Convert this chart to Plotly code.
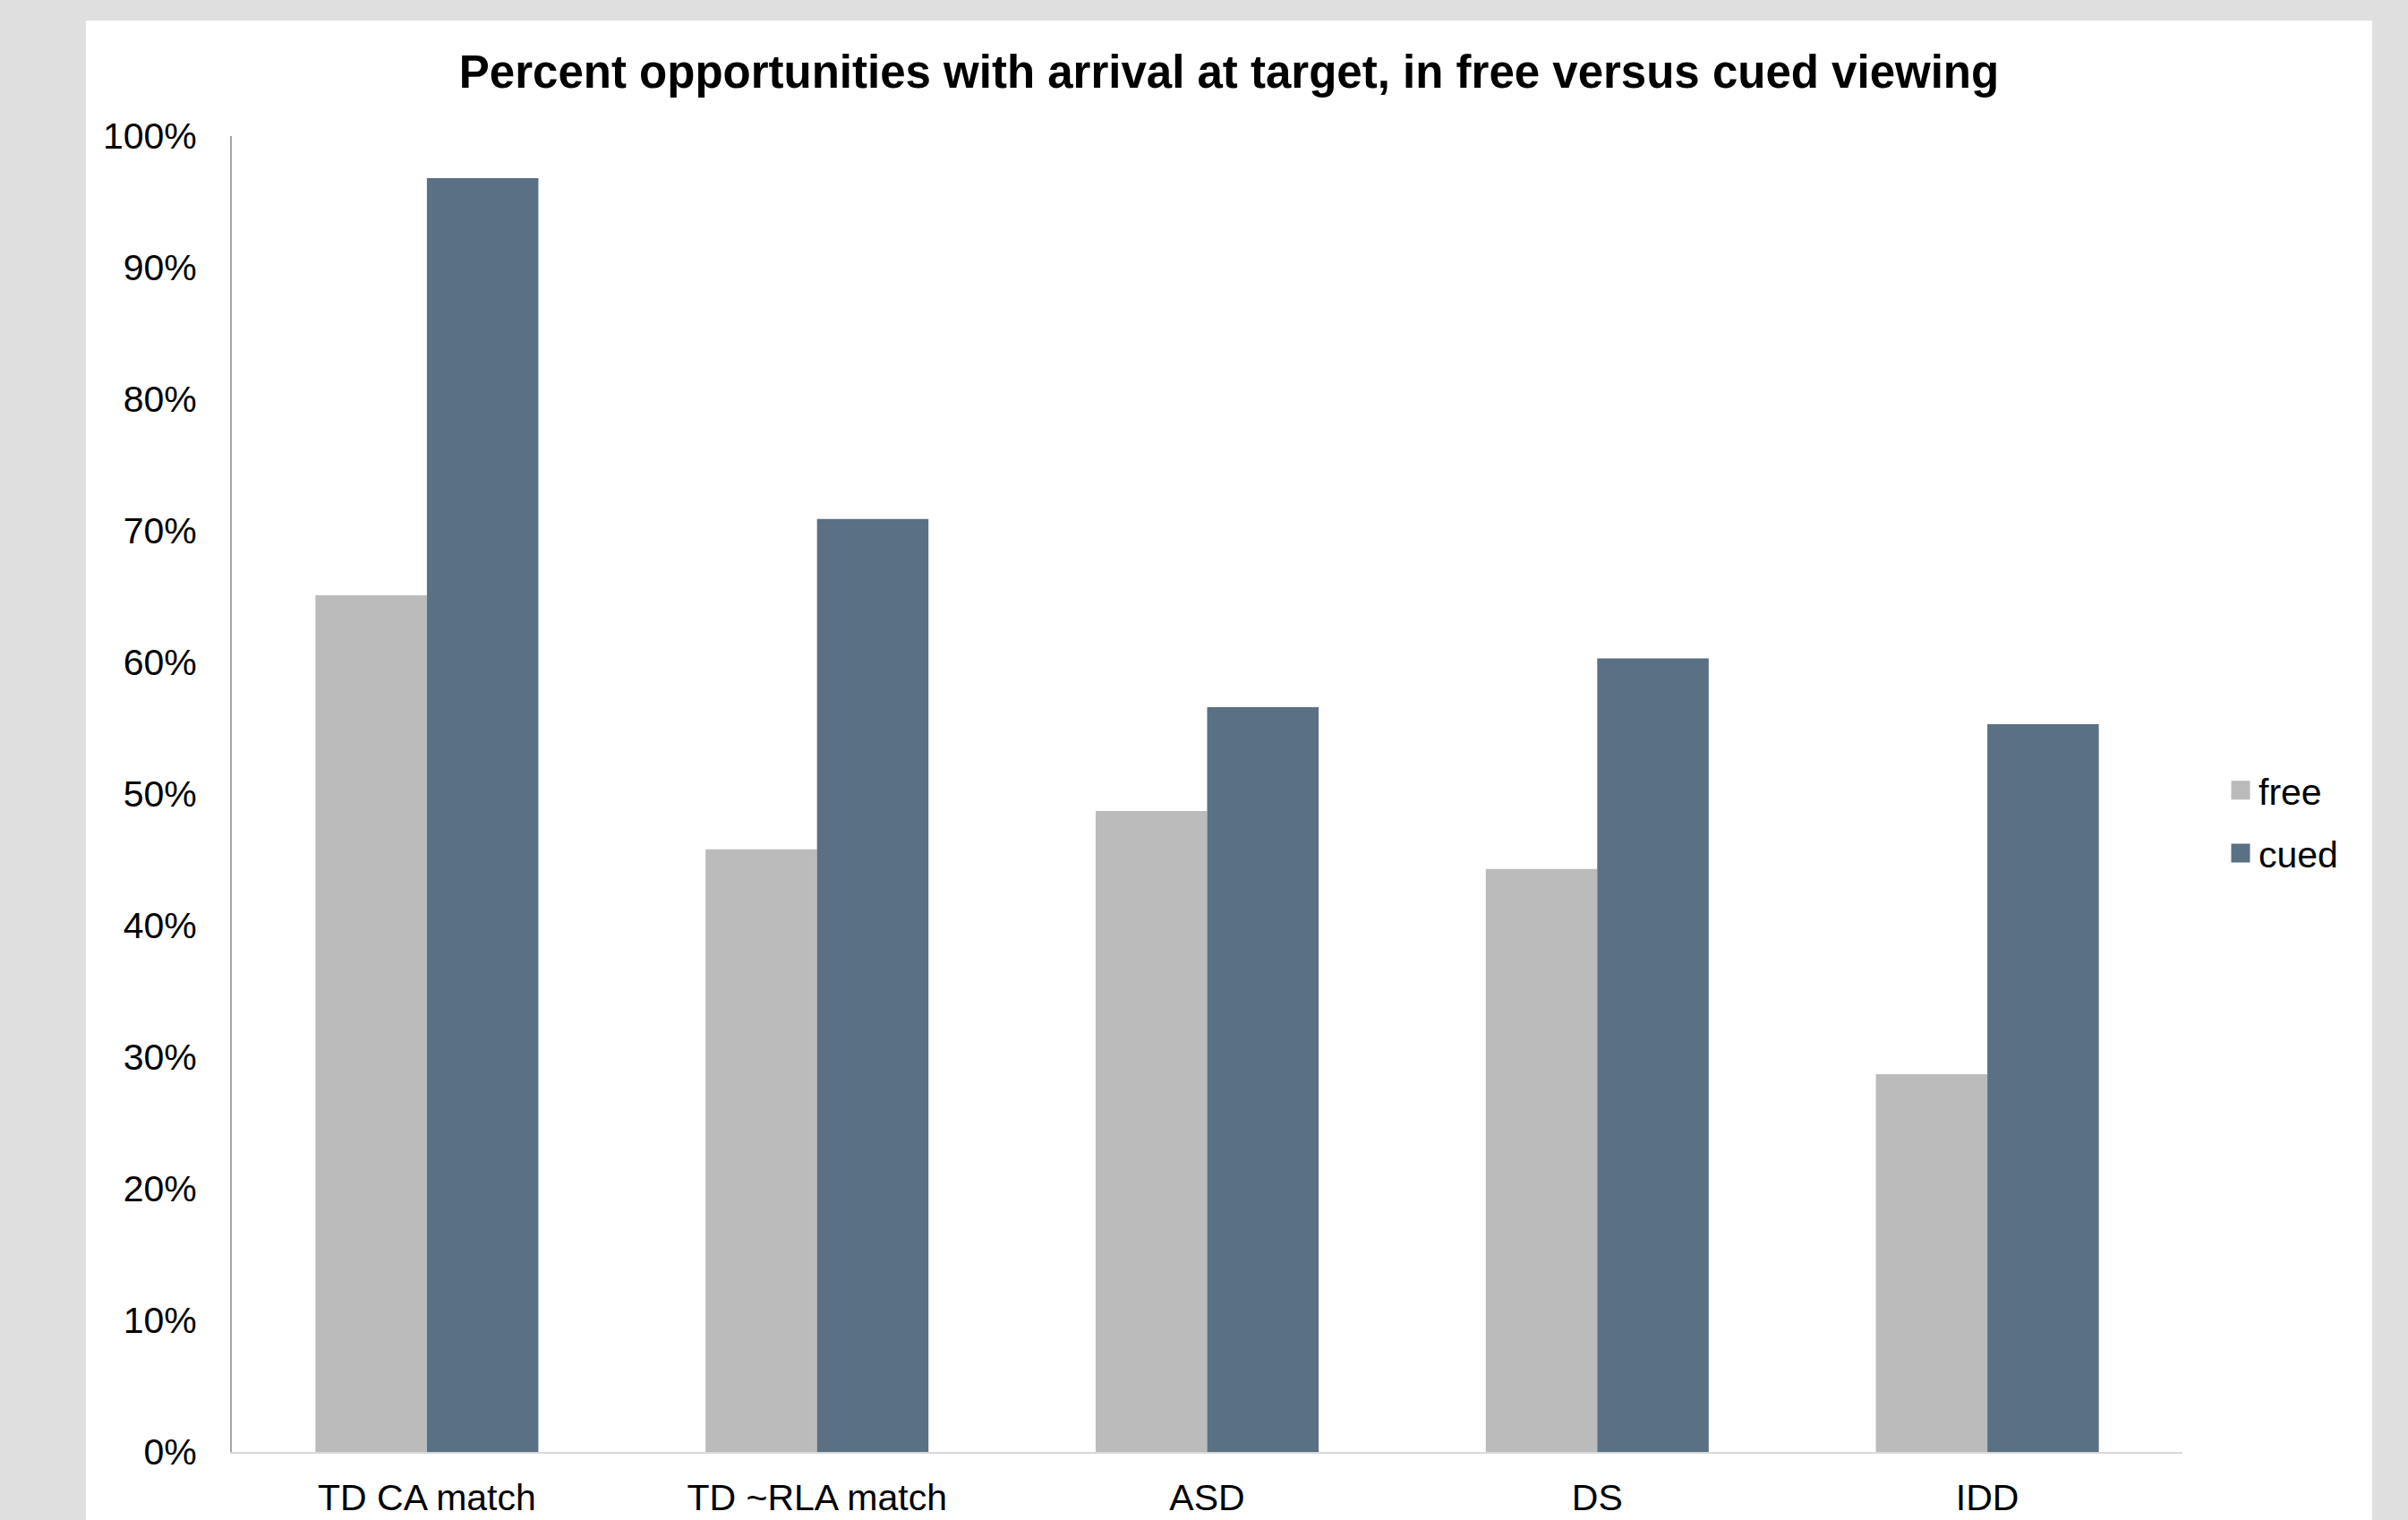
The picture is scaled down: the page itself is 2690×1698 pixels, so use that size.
import plotly.graph_objects as go

# Groups along the x axis
categories = ["TD CA match", "TD ~RLA match", "ASD", "DS", "IDD"]

# Percent of opportunities with arrival at target
free_pct = [65.1, 45.8, 48.7, 44.3, 28.7]
cued_pct = [96.8, 70.9, 56.6, 60.3, 55.3]

y_ticks = [0, 10, 20, 30, 40, 50, 60, 70, 80, 90, 100]
y_tick_labels = [f"{v}%" for v in y_ticks]

FREE_COLOR = "#bbbbbb"
CUED_COLOR = "#5a7083"

W, H = 2690, 1698
ML, MR, MT, MB = 259, 252, 152, 76
plot_w = W - ML - MR
plot_h = H - MT - MB

FONT = "Liberation Sans, Arial, sans-serif"


def px_to_paper_x(px):
    return (px - ML) / plot_w


def px_to_paper_y(py):
    return (H - MB - py) / plot_h


fig = go.Figure()
fig.add_trace(go.Bar(
    name="free", x=categories, y=free_pct,
    marker=dict(color=FREE_COLOR, line=dict(width=0)),
    legendgroup="free", showlegend=False,
))
fig.add_trace(go.Bar(
    name="cued", x=categories, y=cued_pct,
    marker=dict(color=CUED_COLOR, line=dict(width=0)),
    legendgroup="cued", showlegend=False,
))

# Legend entries with larger square swatches (outline in the fill colour
# widens the square beyond the legend's marker size cap)
for name, color in [("free", FREE_COLOR), ("cued", CUED_COLOR)]:
    fig.add_trace(go.Scatter(
        name=name, x=[None], y=[None], mode="markers",
        marker=dict(symbol="square", size=16, color=color,
                    line=dict(width=5, color=color)),
        legendgroup=name, showlegend=True, hoverinfo="skip",
    ))

fig.update_layout(
    width=W, height=H,
    margin=dict(l=ML, r=MR, t=MT, b=MB, pad=0),
    paper_bgcolor="#dfdfdf",
    plot_bgcolor="rgba(0,0,0,0)",
    barmode="group",
    bargap=0.4286,
    bargroupgap=0,
    font=dict(family=FONT, size=41, color="#000000"),
    title=dict(
        text="<b>Percent opportunities with arrival at target, in free versus cued viewing</b>",
        font=dict(family=FONT, size=51, color="#000000"),
        x=1373 / W, xref="container", xanchor="center",
        y=1 - 80 / H, yref="container", yanchor="middle",
    ),
    legend=dict(
        xref="container", yref="container",
        x=(2523 - 40) / W, xanchor="left",
        y=1 - 918 / H, yanchor="middle",
        font=dict(family=FONT, size=41, color="#000000"),
        bgcolor="rgba(0,0,0,0)",
        tracegroupgap=14,
        itemclick=False,
    ),
    shapes=[
        dict(
            type="rect", xref="paper", yref="paper", layer="below",
            x0=px_to_paper_x(96), x1=px_to_paper_x(2650),
            y0=px_to_paper_y(1760), y1=px_to_paper_y(23),
            fillcolor="#ffffff", line=dict(width=0),
        )
    ],
)

fig.update_xaxes(
    automargin=False,
    showline=True, linecolor="#d9d9d9", linewidth=2,
    showgrid=False, zeroline=False,
    ticks="", ticklabelstandoff=14,
    tickfont=dict(family=FONT, size=41, color="#000000"),
)
fig.update_yaxes(
    automargin=False,
    range=[0, 100],
    tickvals=y_ticks, ticktext=y_tick_labels,
    showline=True, linecolor="#a6a6a6", linewidth=2,
    showgrid=False, zeroline=False,
    ticks="", ticklabelstandoff=29,
    tickfont=dict(family=FONT, size=41, color="#000000"),
)

fig.write_html("out.html")
